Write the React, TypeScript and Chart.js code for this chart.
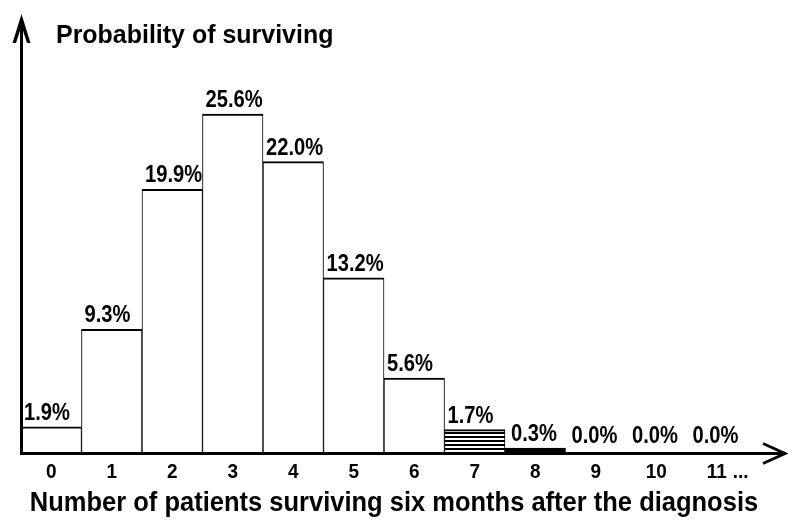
import React, { useEffect, useRef } from "react";
import { Chart, registerables } from "chart.js";

Chart.register(...registerables);

const categories = ["0", "1", "2", "3", "4", "5", "6", "7", "8", "9", "10", "11"];
const probabilities = [1.9, 9.3, 19.9, 25.6, 22.0, 13.2, 5.6, 1.7, 0.3, 0.0, 0.0, 0.0];
const valueLabels = ["1.9%", "9.3%", "19.9%", "25.6%", "22.0%", "13.2%", "5.6%", "1.7%", "0.3%", "0.0%", "0.0%", "0.0%"];
const yTitle = "Probability of surviving";
const xTitle = "Number of patients surviving six months after the diagnosis";
const moreMark = "...";
const hatchedIndex = 7;
const solidIndex = 8;

const FONT = '"Liberation Sans", Arial, sans-serif';

export default function App() {
  const ref = useRef<HTMLCanvasElement | null>(null);

  useEffect(() => {
    const canvas = ref.current;
    if (!canvas) return;

    const pc = document.createElement("canvas");
    pc.width = 8;
    pc.height = 4;
    const pctx = pc.getContext("2d")!;
    pctx.fillStyle = "#ffffff";
    pctx.fillRect(0, 0, 8, 4);
    pctx.fillStyle = "#000000";
    pctx.fillRect(0, 0, 8, 2);
    const ctx0 = canvas.getContext("2d")!;
    const pattern = ctx0.createPattern(pc, "repeat");

    const bg = probabilities.map((_, i) =>
      i === hatchedIndex ? pattern : i === solidIndex ? "#000000" : "#ffffff"
    );

    // draw text slightly condensed and taller, like the reference's narrow bold face
    const tallText = (ctx: CanvasRenderingContext2D, s: string, x: number, y: number, sx: number, sy: number) => {
      ctx.save();
      ctx.translate(x, y);
      ctx.scale(sx, sy);
      ctx.fillText(s, 0, 0);
      ctx.restore();
    };

    const overlay = {
      id: "overlay",
      afterDatasetsDraw(chart: any) {
        const ctx = chart.ctx as CanvasRenderingContext2D;
        const xs = chart.scales.x;
        const area = chart.chartArea;
        const meta = chart.getDatasetMeta(0);
        const base = area.bottom;
        ctx.save();
        ctx.strokeStyle = "#000";
        ctx.fillStyle = "#000";

        // y axis line and arrow
        const ax = area.left + 0.5;
        ctx.lineWidth = 3;
        ctx.beginPath();
        ctx.moveTo(ax, base + 3);
        ctx.lineTo(ax, 20);
        ctx.stroke();
        ctx.beginPath();
        ctx.moveTo(ax, 14);
        ctx.lineTo(ax - 9, 43);
        ctx.lineTo(ax - 5.5, 43);
        ctx.lineTo(ax, 26);
        ctx.lineTo(ax + 5.5, 43);
        ctx.lineTo(ax + 9, 43);
        ctx.closePath();
        ctx.fill();

        // x axis line and arrow
        const ay = base + 1.5;
        ctx.beginPath();
        ctx.moveTo(area.left - 1, ay);
        ctx.lineTo(784, ay);
        ctx.stroke();
        ctx.beginPath();
        ctx.moveTo(763, ay - 10);
        ctx.lineTo(785, ay);
        ctx.lineTo(763, ay + 10);
        ctx.stroke();

        // value labels
        ctx.font = "bold 21px " + FONT;
        ctx.textAlign = "left";
        ctx.textBaseline = "alphabetic";
        meta.data.forEach((bar: any, i: number) => {
          const left = bar.x - bar.width / 2;
          const yb = Math.min(bar.y - 7, base - 9);
          tallText(ctx, valueLabels[i], left + (i >= solidIndex ? 6 : 3), yb, 0.96, 1.12);
        });

        // tick labels
        ctx.font = "bold 19px " + FONT;
        ctx.textAlign = "center";
        categories.forEach((c, i) => {
          const x = xs.getPixelForValue(i);
          tallText(ctx, c, x, base + 26, 1, 1.1);
        });
        const lastX = xs.getPixelForValue(categories.length - 1);
        ctx.textAlign = "left";
        tallText(ctx, moreMark, lastX + 16, base + 26, 1, 1.1);

        // titles
        ctx.font = "bold 25px " + FONT;
        ctx.textAlign = "center";
        tallText(ctx, xTitle, 394, base + 59, 1.02, 1.08);
        ctx.textAlign = "left";
        ctx.font = "bold 24px " + FONT;
        tallText(ctx, yTitle, 56, 43, 1.04, 1.06);
        ctx.restore();
      },
    };

    const chart = new Chart(canvas, {
      type: "bar",
      data: {
        labels: categories,
        datasets: [
          {
            data: probabilities,
            backgroundColor: bg as any,
            borderColor: "#000000",
            borderWidth: { top: 2, left: 1, right: 1, bottom: 0 } as any,
            borderSkipped: false,
            barPercentage: 1,
            categoryPercentage: 1,
          },
        ],
      },
      options: {
        responsive: false,
        animation: false,
        layout: { padding: { left: 21, right: 41, top: 56, bottom: 69 } },
        plugins: { legend: { display: false }, tooltip: { enabled: false }, title: { display: false } },
        scales: {
          x: { display: false, offset: true, grid: { display: false } },
          y: { display: false, min: 0, max: 30 },
        },
      },
      plugins: [overlay],
    });

    return () => chart.destroy();
  }, []);

  return (
    <div style={{ position: "absolute", left: 0, top: 0, width: 788, height: 521, background: "#fff" }}>
      <canvas ref={ref} width={788} height={521} style={{ display: "block" }} />
    </div>
  );
}
